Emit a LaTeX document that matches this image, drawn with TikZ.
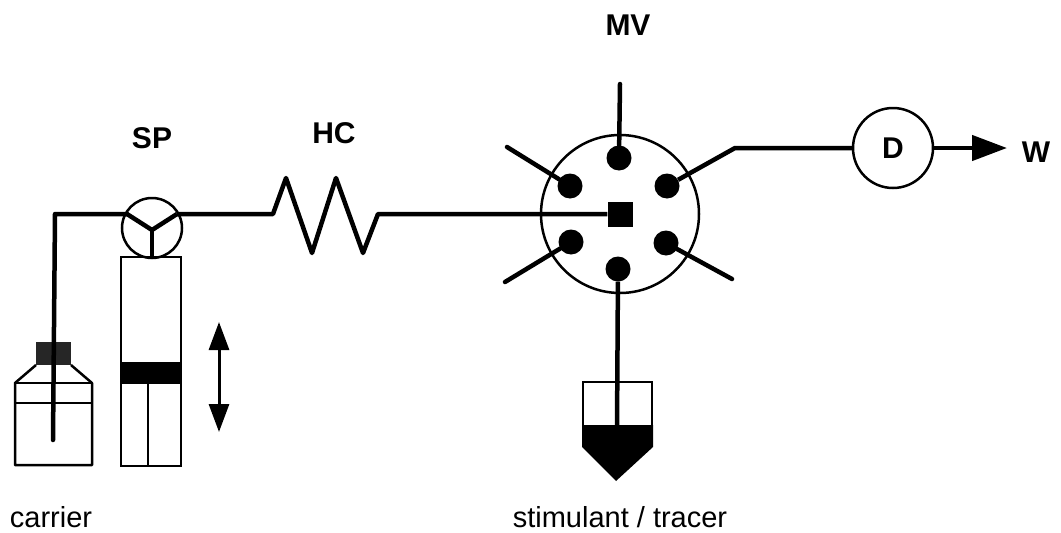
\documentclass[tikz,border=0pt]{standalone}
\usepackage{fontspec}
\setmainfont{Liberation Sans}
\usetikzlibrary{
    arrows.meta,
    calc,
    positioning
}
\tikzset{
    tube/.style={line width=4.5pt, line join=round},
    thin wall/.style={line width=2.5pt},
    port/.style={circle, fill=black, minimum size=25pt, inner sep=0pt},
    tag/.style={font=\bfseries\fontsize{30}{30}\selectfont},
    caption/.style={font=\fontsize{29}{29}\selectfont}
}
\begin{document}
\begin{tikzpicture}[x=1pt, y=-1pt]
    \useasboundingbox (0, 0) rectangle (1061, 533);
    % labels
    \node[tag] (sp) at (152, 138) {SP};
    \node[tag] (hc) at (334, 133) {HC};
    \node[tag] (mv) at (628, 25) {MV};
    \node[tag] (w) at (1036, 152) {W};
    \node[caption] (carrier) at (51, 517) {carrier};
    \node[caption] (tracer) at (620, 517) {stimulant / tracer};
    % pump head, valve, detector
    \node[circle, draw, thin wall, minimum size=60pt, inner sep=0pt] (pump) at (152, 228) {};
    \node[circle, draw, thin wall, minimum size=158pt, inner sep=0pt] (valve) at (620, 214) {};
    \node[circle, draw, thin wall, minimum size=80pt, inner sep=0pt, tag] (det) at (893, 148) {D};
    \node[port] (p1) at (619, 158) {};
    \node[port] (p2) at (667, 186) {};
    \node[port] (p3) at (666, 243) {};
    \node[port] (p4) at (618, 269) {};
    \node[port] (p5) at (571, 242) {};
    \node[port] (p6) at (570, 186) {};
    \node[fill=black, minimum size=25pt, inner sep=0pt] (hub) at (620, 214) {};
    % free ends
    \coordinate (t1) at (620, 84);
    \coordinate (t2) at (735, 148);
    \coordinate (t3) at (732, 279);
    \coordinate (t5) at (505, 282);
    \coordinate (t6) at (507, 147);
    \coordinate (yc) at (152, 230);
    \coordinate (yl) at (127, 214);
    \coordinate (yr) at (177, 214);
    \coordinate (yb) at (152, 257);
    \coordinate (corner) at (55, 214);
    \coordinate (dip) at (53, 440);
    \coordinate (vialdip) at (617, 430);
    \coordinate (out) at (1007, 148);
    % syringe
    \draw[thin wall] (121, 257) rectangle (181, 466);
    \fill (120, 362) rectangle (182, 384);
    \draw[thin wall] (148, 384) -- (148, 466);
    \coordinate (up) at (219, 322);
    \coordinate (down) at (219, 432);
    \draw[line width=3pt, {Triangle[length=28pt, width=20pt]}-{Triangle[length=28pt, width=20pt]}] (up) -- (down);
    % bottle
    \draw[thin wall, line join=round] (36, 365) -- (15, 383) -- (15, 465) -- (92, 465) -- (92, 383) -- (71, 365);
    \draw[thin wall] (15, 383) -- (92, 383);
    \draw[thin wall] (15, 403) -- (92, 403);
    \fill[black!85] (36, 342) rectangle (71, 365);
    % vial
    \draw[thin wall] (583, 382) rectangle (652, 430);
    \fill (582, 425) -- (653, 425) -- (653, 447) -- (616, 481) -- (582, 447) -- cycle;
    % tubing
    \draw[tube, line cap=round] (dip) -- (corner) -- (yl);
    \draw[tube] (yl) -- (yc) -- (yr);
    \draw[tube] (yc) -- (yb);
    \draw[tube] (yr) -- (273, 214) -- (286, 178) -- (312, 253) -- (336, 178) -- (363, 253) -- (378, 214) -- (hub.west);
    \draw[tube, line cap=round] (p1) -- (t1);
    \draw[tube] (p2) -- (t2) -- (det);
    \draw[tube, line cap=round] (p3) -- (t3);
    \draw[tube] (p4) -- (vialdip);
    \draw[tube, line cap=round] (p5) -- (t5);
    \draw[tube, line cap=round] (p6) -- (t6);
    \draw[tube, -{Triangle[length=35pt, width=25pt]}] (det) -- (out);
\end{tikzpicture}
\end{document}
